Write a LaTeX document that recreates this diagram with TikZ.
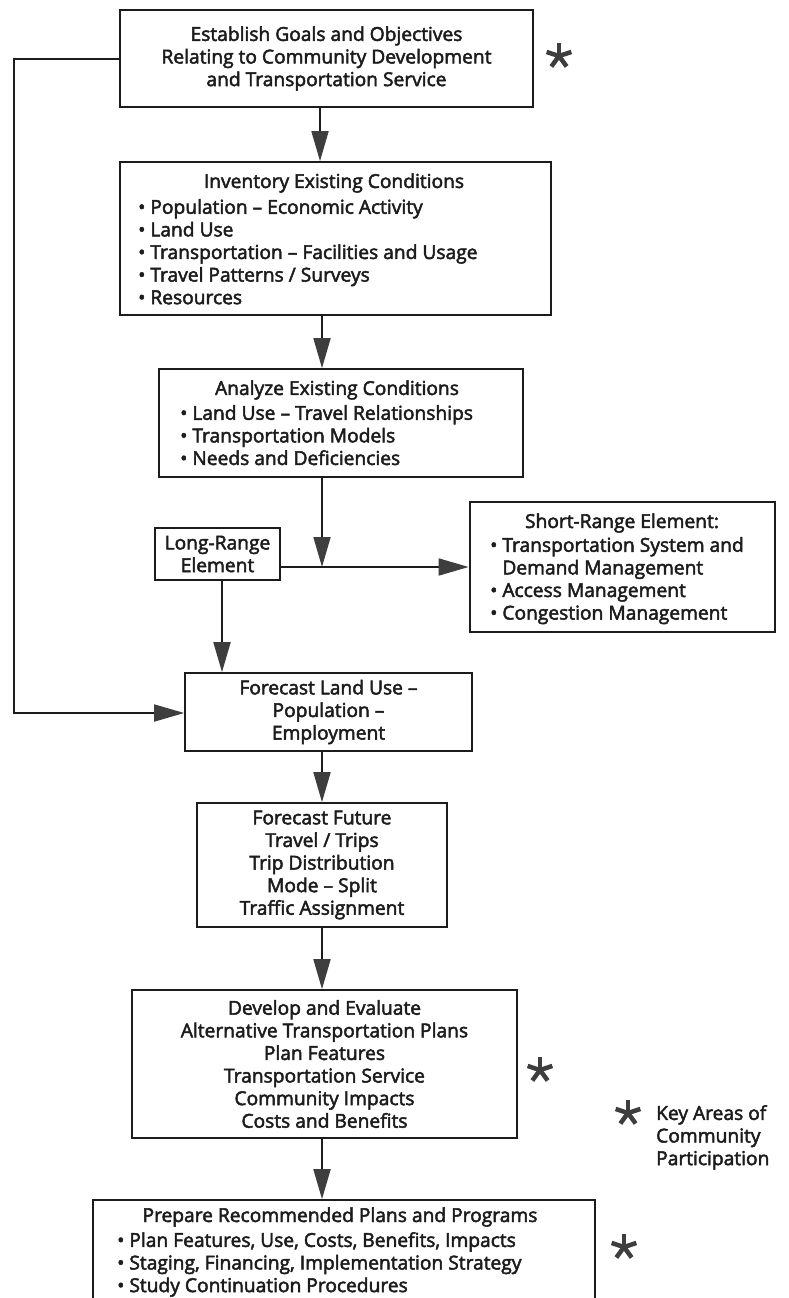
\documentclass[tikz,border=0pt]{standalone}
\usepackage{fontspec}
\setmainfont{Open Sans}[FakeBold=2.5]
\usetikzlibrary{arrows.meta,calc}
\definecolor{ink}{HTML}{1C1C1C}
\definecolor{tipgray}{HTML}{3E3E3E}
\begin{document}
\begin{tikzpicture}[x=1pt,y=-1pt,
  every node/.style={font=\fontsize{19.2}{22.6}\selectfont, text=ink},
  box/.style={draw=ink, line width=1.7pt, rectangle, inner sep=0pt},
  heavybox/.style={box, line width=2.8pt},
  txt/.style={inner sep=0pt},
  list/.style={inner sep=0pt, anchor=north west, align=left},
  link/.style={draw=ink, line width=1.8pt},
  arr/.style={link, -{Triangle[length=30pt,width=17pt,color=tipgray]}},
  starmark/.pic={
    \foreach \a in {90,18,162,-54,-126}
      \draw[tipgray, line width=4.5pt] (0,0) -- ++(\a:-13);
  }
]
\useasboundingbox (0,0) rectangle (789,1298);
\fill[white] (0,0) rectangle (789,1298);

% process boxes
\node[box, minimum width=413pt, minimum height=97pt, align=center] (goals) at (326.5,58.5)
  {Establish Goals and Objectives\\Relating to Community Development\\and Transportation Service};

\node[box, minimum width=431pt, minimum height=153pt] (inv) at (335.5,238.5) {};
\node[txt] (invT) at (334,183) {Inventory Existing Conditions};
\node[list] (invL) at (138,199) {• Population – Economic Activity\\• Land Use\\• Transportation – Facilities and Usage\\• Travel Patterns / Surveys\\• Resources};

\node[box, minimum width=364pt, minimum height=108pt] (ana) at (341,423) {};
\node[txt] (anaT) at (337,390) {Analyze Existing Conditions};
\node[list] (anaL) at (180,405) {• Land Use – Travel Relationships\\• Transportation Models\\• Needs and Deficiencies};

\node[box, minimum width=125pt, minimum height=52pt, align=center] (lr) at (217.5,554)
  {Long-Range\\Element};

\node[heavybox, minimum width=305pt, minimum height=130pt] (sr) at (622.5,567) {};
\node[txt] (srT) at (622,523) {Short-Range Element:};
\node[list] (srL) at (490,537) {• Transportation System and\\\phantom{• }Demand Management\\• Access Management\\• Congestion Management};

\node[box, minimum width=287pt, minimum height=78pt, align=center] (fland) at (328.5,712)
  {Forecast Land Use –\\Population –\\Employment};

\node[box, minimum width=250pt, minimum height=124pt, align=center] (ffut) at (322,865)
  {Forecast Future\\Travel / Trips\\Trip Distribution\\Mode – Split\\Traffic Assignment};

\node[box, minimum width=385pt, minimum height=148pt, align=center] (dev) at (324.5,1064)
  {Develop and Evaluate\\Alternative Transportation Plans\\Plan Features\\Transportation Service\\Community Impacts\\Costs and Benefits};

\node[box, minimum width=502pt, minimum height=104pt] (prep) at (344,1252) {};
\node[txt] (prepT) at (340,1217) {Prepare Recommended Plans and Programs};
\node[list] (prepL) at (117,1232) {• Plan Features, Use, Costs, Benefits, Impacts\\• Staging, Financing, Implementation Strategy\\• Study Continuation Procedures};

% participation marks and key
\pic (mGoals) at (559,56) {starmark};
\pic (mDev) at (540,1070) {starmark};
\pic (mPrep) at (624,1247) {starmark};
\pic (mKey) at (628,1113) {starmark};
\node[list] (key) at (656,1105) {Key Areas of\\Community\\Participation};

% routing points
\coordinate (spA) at (320,0);
\coordinate (spB) at (322,0);
\coordinate (jn) at (322,567);
\coordinate (lrx) at (222,0);
\coordinate (fbA) at (14,59);
\coordinate (fbB) at (14,713);

% connectors
\draw[arr] (goals.south -| spA) -- (inv.north -| spA);
\draw[arr] (inv.south -| spB) -- (ana.north -| spB);
\draw[arr] (ana.south -| spB) -- (jn);
\draw[arr] (lr.east |- jn) -- (sr.west |- jn);
\draw[arr] (lr.south -| lrx) -- (fland.north -| lrx);
\draw[arr] (goals.west |- fbA) -- (fbA) -- (fbB) -- (fland.west |- fbB);
\draw[arr] (fland.south -| spB) -- (ffut.north -| spB);
\draw[arr] (ffut.south -| spB) -- (dev.north -| spB);
\draw[arr] (dev.south -| spB) -- (prep.north -| spB);
\end{tikzpicture}
\end{document}
